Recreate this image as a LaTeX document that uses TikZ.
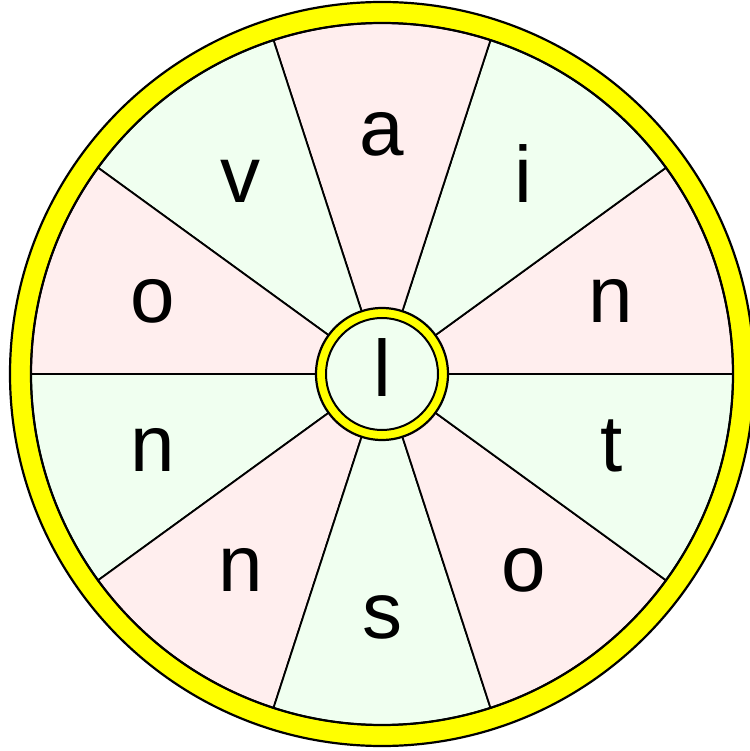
\documentclass[tikz,border=0pt]{standalone}
\usepackage{fontspec}
\setmainfont{Liberation Sans}
\usetikzlibrary{calc}
\definecolor{segpink}{RGB}{255,238,238}
\definecolor{seggreen}{RGB}{240,255,240}
\definecolor{rimyellow}{RGB}{255,255,0}

\begin{document}
\begin{tikzpicture}[x=1pt, y=1pt,
    rim/.style={draw=black, line width=2.2pt, fill=rimyellow},
    sector/.style={draw=black, line width=1.8pt},
    letter/.style={font=\fontsize{80}{96}\selectfont, anchor=base, inner sep=0pt}]
  \useasboundingbox (-382,-377) rectangle (367,374);

  % Vành ngoài màu vàng
  \draw[rim] (0,0) circle (372);

  % Mười ô quạt xen kẽ hồng / xanh
  \foreach \i/\c/\t in {0/segpink/n, 1/seggreen/i, 2/segpink/a, 3/seggreen/v,
                        4/segpink/o, 5/seggreen/n, 6/segpink/n, 7/seggreen/s,
                        8/segpink/o, 9/seggreen/t} {
    \filldraw[sector, fill=\c] (0,0) -- ({36*\i}:351) arc ({36*\i}:{36*\i+36}:351) -- cycle;
    \node[letter] (s\i) at ($({36*\i+18}:241)+(0,-23)$) {\t};
  }
  \draw[line width=2.2pt] (0,0) circle (351);

  % Trục giữa
  \draw[rim] (0,0) circle (66);
  \draw[line width=2pt, fill=seggreen] (0,0) circle (56);
  \node[letter] (hub) at (0,-23) {l};
\end{tikzpicture}
\end{document}
